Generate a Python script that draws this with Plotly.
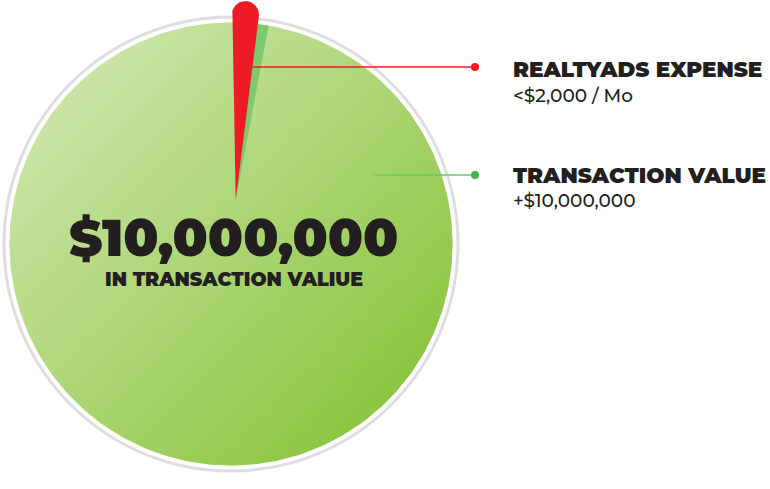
import numpy as np
import plotly.graph_objects as go

# ---------------- data ----------------
categories = ["REALTYADS EXPENSE", "TRANSACTION VALUE"]
share_pct = [2.33, 97.67]            # visual share of the circle
sub_labels = ["<$2,000 / Mo", "+$10,000,000"]
center_value = "$10,000,000"
center_caption = "IN TRANSACTION VALIUE"

# ---------------- style / layout ----------------
W, H = 770, 489
CX, CY, R = 231.0, 244.0, 221.5
RING_R = 227.0
START_DEG = -1.2          # clockwise from 12 o'clock
PULL = 44.3
PULL_DIR = 6.1
WEDGE_LEN = 186.0
SHADOW_EXTRA = 3.5
RED = "#ED1C24"
SHADOW = "#7CC96E"
GREEN_A = (214, 234, 186)
GREEN_B = (128, 192, 44)
LABEL_X = 511
DOT_X = 475
LABEL_Y = [68.5, 174.5]
SUB_Y = [95, 200]
LINE_Y = [67, 175]
LINE_START_X = [None, 375]
DOT_COLORS = [RED, "#39B54A"]
LINE_COLORS = [RED, "#6CC46A"]
TEXT = "#231F20"
HEAVY = "Montserrat, Lato, Roboto, sans-serif"
REG = "Montserrat, Lato, 'Open Sans', sans-serif"


def pt(cx, cy, ang, r):
    a = np.radians(ang)
    return cx + r * np.sin(a), cy - r * np.cos(a)


def rgb(c, a=None):
    if a is None:
        return "rgb(%d,%d,%d)" % c
    return "rgba(%d,%d,%d,%.2f)" % (c + (a,))


fig = go.Figure()

# outer ring
fig.add_shape(type="circle", x0=CX - RING_R, x1=CX + RING_R, y0=CY - RING_R, y1=CY + RING_R,
              line=dict(color="#DEDEDE", width=3), layer="below")

# full circle (total / transaction value) with diagonal gradient
th = np.linspace(0, 360, 361)
cxs, cys = pt(CX, CY, th, R)
fig.add_trace(go.Scatter(x=cxs, y=cys, mode="lines", fill="toself", line=dict(width=0),
                         fillgradient=dict(type="horizontal", start=CX - R, stop=CX + R,
                                           colorscale=[[0, rgb(GREEN_A)], [1, rgb(GREEN_B)]]),
                         hoverinfo="skip", showlegend=False, name=categories[1]))
fig.add_trace(go.Scatter(x=cxs, y=cys, mode="lines", fill="toself", line=dict(width=0),
                         fillgradient=dict(type="vertical", start=CY - R, stop=CY + R,
                                           colorscale=[[0, rgb(GREEN_A, 0.5)], [1, rgb(GREEN_B, 0.5)]]),
                         hoverinfo="skip", showlegend=False))

# pulled expense slice geometry
a0 = START_DEG
a1 = a0 + share_pct[0] / 100.0 * 360.0
mid = (a0 + a1) / 2
ax, ay = pt(CX, CY, PULL_DIR, PULL)

# shadow sliver (from apex to circle edge)
sang = np.linspace(mid, a1 + SHADOW_EXTRA, 40)
sx, sy = [ax], [ay]
for ang in sang:
    d = np.array([np.sin(np.radians(ang)), -np.cos(np.radians(ang))])
    p = np.array([ax - CX, ay - CY])
    b = p @ d
    c = p @ p - R * R
    t = -b + np.sqrt(b * b - c)
    sx.append(ax + t * d[0])
    sy.append(ay + t * d[1])
sx.append(ax)
sy.append(ay)
fig.add_trace(go.Scatter(x=sx, y=sy, mode="lines", fill="toself", fillcolor=SHADOW,
                         line=dict(width=0), hoverinfo="skip", showlegend=False))

# leader lines + dots
starts = [ax + (ay - LINE_Y[0]) * np.tan(np.radians(mid)), LINE_START_X[1]]
for i in range(2):
    fig.add_trace(go.Scatter(x=[starts[i], DOT_X], y=[LINE_Y[i], LINE_Y[i]],
                             mode="lines", line=dict(color=LINE_COLORS[i], width=1.5),
                             hoverinfo="skip", showlegend=False))
    fig.add_trace(go.Scatter(x=[DOT_X], y=[LINE_Y[i]], mode="markers",
                             marker=dict(color=DOT_COLORS[i], size=8),
                             hoverinfo="skip", showlegend=False))

# red wedge with rounded cap
lx, ly = pt(ax, ay, a0, WEDGE_LEN)
rx, ry = pt(ax, ay, a1, WEDGE_LEN)
ccx, ccy = (lx + rx) / 2, (ly + ry) / 2
rc = np.hypot(rx - lx, ry - ly) / 2
cap = np.linspace(mid - 90, mid + 90, 40)
capx, capy = pt(ccx, ccy, cap, rc)
wx = [ax, lx] + list(capx) + [rx, ax]
wy = [ay, ly] + list(capy) + [ry, ay]
fig.add_trace(go.Scatter(x=wx, y=wy, mode="lines", fill="toself", fillcolor=RED,
                         line=dict(width=0), hoverinfo="skip", showlegend=False,
                         name=categories[0]))

# labels
for i in range(2):
    fig.add_annotation(x=LABEL_X, y=LABEL_Y[i], text=categories[i], showarrow=False,
                       xanchor="left", yanchor="middle", xref="x", yref="y",
                       font=dict(family=HEAVY, size=21.5, color=TEXT, weight=900))
    fig.add_annotation(x=LABEL_X, y=SUB_Y[i], text=sub_labels[i], showarrow=False,
                       xanchor="left", yanchor="middle", xref="x", yref="y",
                       font=dict(family=REG, size=18.5, color=TEXT, weight=500))

fig.add_annotation(x=233, y=238, text=center_value, showarrow=False, xanchor="center",
                   yanchor="middle", font=dict(family=HEAVY, size=51, color=TEXT, weight=900))
fig.add_annotation(x=234, y=279, text=center_caption, showarrow=False, xanchor="center",
                   yanchor="middle", font=dict(family=HEAVY, size=19, color=TEXT, weight=900))

fig.update_layout(width=W, height=H, margin=dict(l=0, r=0, t=0, b=0),
                  paper_bgcolor="white", plot_bgcolor="white", showlegend=False,
                  xaxis=dict(range=[0, W], visible=False, fixedrange=True),
                  yaxis=dict(range=[H, 0], visible=False, fixedrange=True))
fig.write_html("out.html", config={"displayModeBar": False},
               post_script="document.body.style.margin='0px';document.body.style.overflow='hidden';")
